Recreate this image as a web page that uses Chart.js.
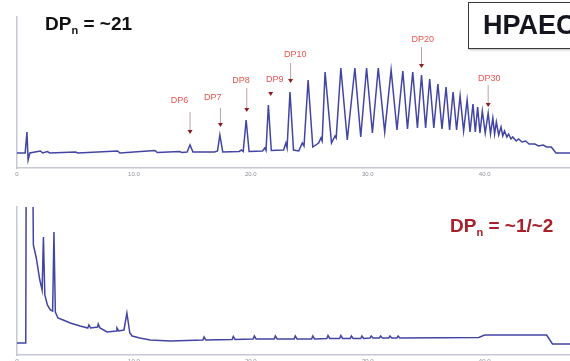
<!DOCTYPE html>
<html lang="en">
<head>
<meta charset="UTF-8">
<title>HPAEC</title>
<style>
  body { margin: 0; background: #fff; overflow: hidden; }
  .wrap { position: relative; width: 570px; height: 361px; overflow: hidden; font-family: 'Liberation Sans', Arial, sans-serif; }
  canvas { position: absolute; left: 0; }
  #topChart { top: 0; }
  #bottomChart { top: 180px; }
  .dpn { position: absolute; font-weight: bold; font-size: 19px; line-height: 22px; white-space: nowrap; }
  .dpn span { font-size: 11px; position: relative; top: 4px; }
  .boxTitle { position: absolute; left: 468px; top: 2px; width: 130px; height: 45px; border: 1.5px solid #3a3a3a; box-shadow: 1px 1px 2px #bbb; }
  .boxText { position: absolute; left: 483px; top: 10px; font-weight: bold; font-size: 27px; line-height: 30px; color: #15151f; white-space: nowrap; }
</style>
</head>
<body>
<div class="wrap">
  <canvas id="topChart" width="570" height="180"></canvas>
  <canvas id="bottomChart" width="570" height="181"></canvas>
  <div class="dpn" style="left:45px; top:13px; color:#111;">DP<span>n</span> = ~21</div>
  <div class="boxTitle"></div>
  <div class="boxText">HPAEC</div>
  <div class="dpn" style="left:450px; top:215px; color:#a8202a;">DP<span>n</span> = ~1/~2</div>
</div>

<script src="https://cdn.jsdelivr.net/npm/chart.js"></script>
<script>
// retention time (min) and detector signal
const topTime = [
  0, 0.7, 0.85, 0.95, 1.1, 2.0, 2.2, 2.6, 2.8, 5.0,
  5.2, 8.6, 8.8, 11.8, 12.0, 13.9, 14.1, 14.55, 14.8, 15.05,
  16.9, 17.15, 17.35, 17.6, 19.0, 19.2, 19.35, 19.6, 19.85, 21.0,
  21.2, 21.3, 21.5, 21.75, 22.8, 23.0, 23.1, 23.35, 23.65, 24.1,
  24.4, 24.55, 24.9, 25.3, 25.8, 26.0, 26.1, 26.35, 26.9, 27.2,
  27.3, 27.7, 28.25, 28.9, 29.4, 29.9, 30.4, 30.9, 31.45, 32.0,
  32.5, 33.0, 33.4, 33.85, 34.25, 34.6, 34.95, 35.3, 35.65, 36.0,
  36.35, 36.7, 37.0, 37.3, 37.6, 37.9, 38.2, 38.5, 38.75, 39.0,
  39.2, 39.4, 39.6, 39.8, 40.05, 40.3, 40.5, 40.7, 40.85, 41.0,
  41.2, 41.4, 41.55, 41.7, 41.9, 42.05, 42.25, 42.4, 42.7, 42.9,
  43.2, 43.5, 43.8, 44.3, 44.6, 45.0, 45.3, 45.7, 46.1, 47.3
];
const topSignal = [
  15, 15, 36, 8, 15, 17, 15, 16.5, 15, 16,
  15, 17, 15, 17.5, 15.5, 16.5, 15.5, 16, 23, 16,
  16, 17, 33, 16, 16.5, 18, 16.5, 48, 16.5, 17,
  20, 17.5, 63, 17.5, 18, 25, 20, 76, 18, 17,
  25, 22, 88, 21, 25, 30, 27, 96, 25, 32,
  30, 100, 28, 100, 31, 100, 35, 100, 36, 98,
  38, 97, 39, 96, 40, 93, 40, 89, 40, 84,
  39, 81, 38, 76, 38, 72, 37, 68, 36, 64,
  36, 61, 35, 57, 35, 55, 34, 50, 34, 46,
  33, 41, 32, 37, 31, 34, 29, 31, 27, 29,
  26, 27, 24, 24, 22, 23, 21, 21, 15, 15
];

const bottomTime = [
  0, 0.75, 0.8, 1.3, 1.4, 1.65, 1.95, 2.15, 2.26, 2.38,
  2.6, 2.85, 3.05, 3.16, 3.28, 3.5, 3.95, 4.55, 5.4, 6.05,
  6.15, 6.3, 6.9, 6.95, 7.1, 7.7, 8.5, 8.55, 8.7, 9.15,
  9.4, 9.65, 9.85, 10.5, 11.4, 13.1,
  15.9, 16.0, 16.15, 18.4, 18.5, 18.65, 20.2, 20.3, 20.45,
  22.0, 22.1, 22.25, 23.7, 23.8, 23.95, 25.2, 25.3, 25.45,
  26.5, 26.6, 26.75, 27.6, 27.7, 27.85, 28.5, 28.6, 28.75,
  29.4, 29.5, 29.65, 30.2, 30.3, 30.45, 31.0, 31.1, 31.25,
  31.8, 31.9, 32.05, 32.5, 32.6, 32.75,
  39.5, 40.0, 45.3, 45.8, 47.3
];
const bottomSignal = [
  12, 12, 250, 250, 110, 97, 75, 65, 118, 60,
  50, 45, 44, 123, 43, 37, 35, 32, 29, 27,
  30, 27, 28, 31, 27, 23, 24, 27, 24, 25,
  42, 22, 19, 17, 15, 14,
  15, 18, 15, 15.5, 18.5, 15.5, 16, 19, 16,
  16, 19, 16, 16, 19, 16, 16, 19, 16,
  16.5, 19.5, 16.5, 16.5, 19.5, 16.5, 16.5, 19, 16.5,
  16.5, 19, 16.5, 17, 19, 17, 17, 19, 17,
  17, 19, 17, 17, 19, 17,
  17.5, 20, 20, 11, 11
];

// peak labels of the upper trace
const dpNames = ['DP6', 'DP7', 'DP8', 'DP9', 'DP10', 'DP20', 'DP30'];
const dpPeakTime = [14.8, 17.4, 19.65, 21.7, 23.4, 34.6, 40.3];
const dpLabelTime = [13.9, 16.75, 19.15, 22.05, 23.8, 34.7, 40.4];
const dpLabelLevel = [67, 70, 87, 88, 113, 128, 89];
const dpArrowStart = [56, 60, 80, 76, 105, 121, 83];
const dpArrowEnd = [34, 41, 56, 72, 85, 100, 61];

const xTicks = [0, 10, 20, 30, 40];

const lineColor = '#4245a4';
const axisColor = '#c6c8d4';

const dpArrows = {
  id: 'dpArrows',
  afterDatasetsDraw(chart) {
    const ctx = chart.ctx;
    const xs = chart.scales.x, ys = chart.scales.y;
    ctx.save();
    ctx.font = "9px 'Liberation Sans', Arial, sans-serif";
    ctx.textAlign = 'center';
    ctx.textBaseline = 'middle';
    for (let i = 0; i < dpNames.length; i++) {
      ctx.fillStyle = '#e8544e';
      ctx.fillText(dpNames[i], xs.getPixelForValue(dpLabelTime[i]), ys.getPixelForValue(dpLabelLevel[i]));
      const ax = xs.getPixelForValue(dpPeakTime[i]);
      const y0 = ys.getPixelForValue(dpArrowStart[i]);
      const y1 = ys.getPixelForValue(dpArrowEnd[i]);
      ctx.strokeStyle = '#b9a3a6';
      ctx.lineWidth = 1;
      ctx.beginPath();
      ctx.moveTo(ax, y0);
      ctx.lineTo(ax, y1 - 3);
      ctx.stroke();
      ctx.fillStyle = '#8a1c22';
      ctx.beginPath();
      ctx.moveTo(ax - 2.5, y1 - 4);
      ctx.lineTo(ax + 2.5, y1 - 4);
      ctx.lineTo(ax, y1);
      ctx.closePath();
      ctx.fill();
    }
    ctx.restore();
  }
};

function makeChart(id, times, signal, yMax, padTop, xHeight, plugins) {
  return new Chart(document.getElementById(id), {
    type: 'line',
    data: {
      datasets: [{
        data: times.map((t, i) => ({ x: t, y: signal[i] })),
        borderColor: lineColor,
        borderWidth: 1.5,
        pointRadius: 0,
        tension: 0,
        fill: false
      }]
    },
    options: {
      responsive: false,
      animation: false,
      layout: { padding: { top: padTop, left: 0, right: 0, bottom: 0 } },
      plugins: { legend: { display: false }, tooltip: { enabled: false } },
      scales: {
        x: {
          type: 'linear',
          min: 0,
          max: 47.3,
          afterBuildTicks: s => { s.ticks = xTicks.map(v => ({ value: v })); },
          afterFit: s => { s.height = xHeight; },
          border: { color: axisColor, width: 1.5 },
          grid: { display: false, drawTicks: false },
          ticks: {
            padding: 3,
            maxRotation: 0,
            color: '#8c8c94',
            font: { size: 6, family: 'Liberation Sans' },
            callback: v => v === 0 ? '0' : v.toFixed(1)
          }
        },
        y: {
          min: 0,
          max: yMax,
          afterFit: s => { s.width = 17; },
          border: { color: axisColor, width: 1.5 },
          grid: { display: false, drawTicks: false },
          ticks: { display: false }
        }
      }
    },
    plugins: plugins
  });
}

makeChart('topChart', topTime, topSignal, 151, 17, 12, [dpArrows]);
makeChart('bottomChart', bottomTime, bottomSignal, 148, 27, 6, []);
</script>
</body>
</html>
